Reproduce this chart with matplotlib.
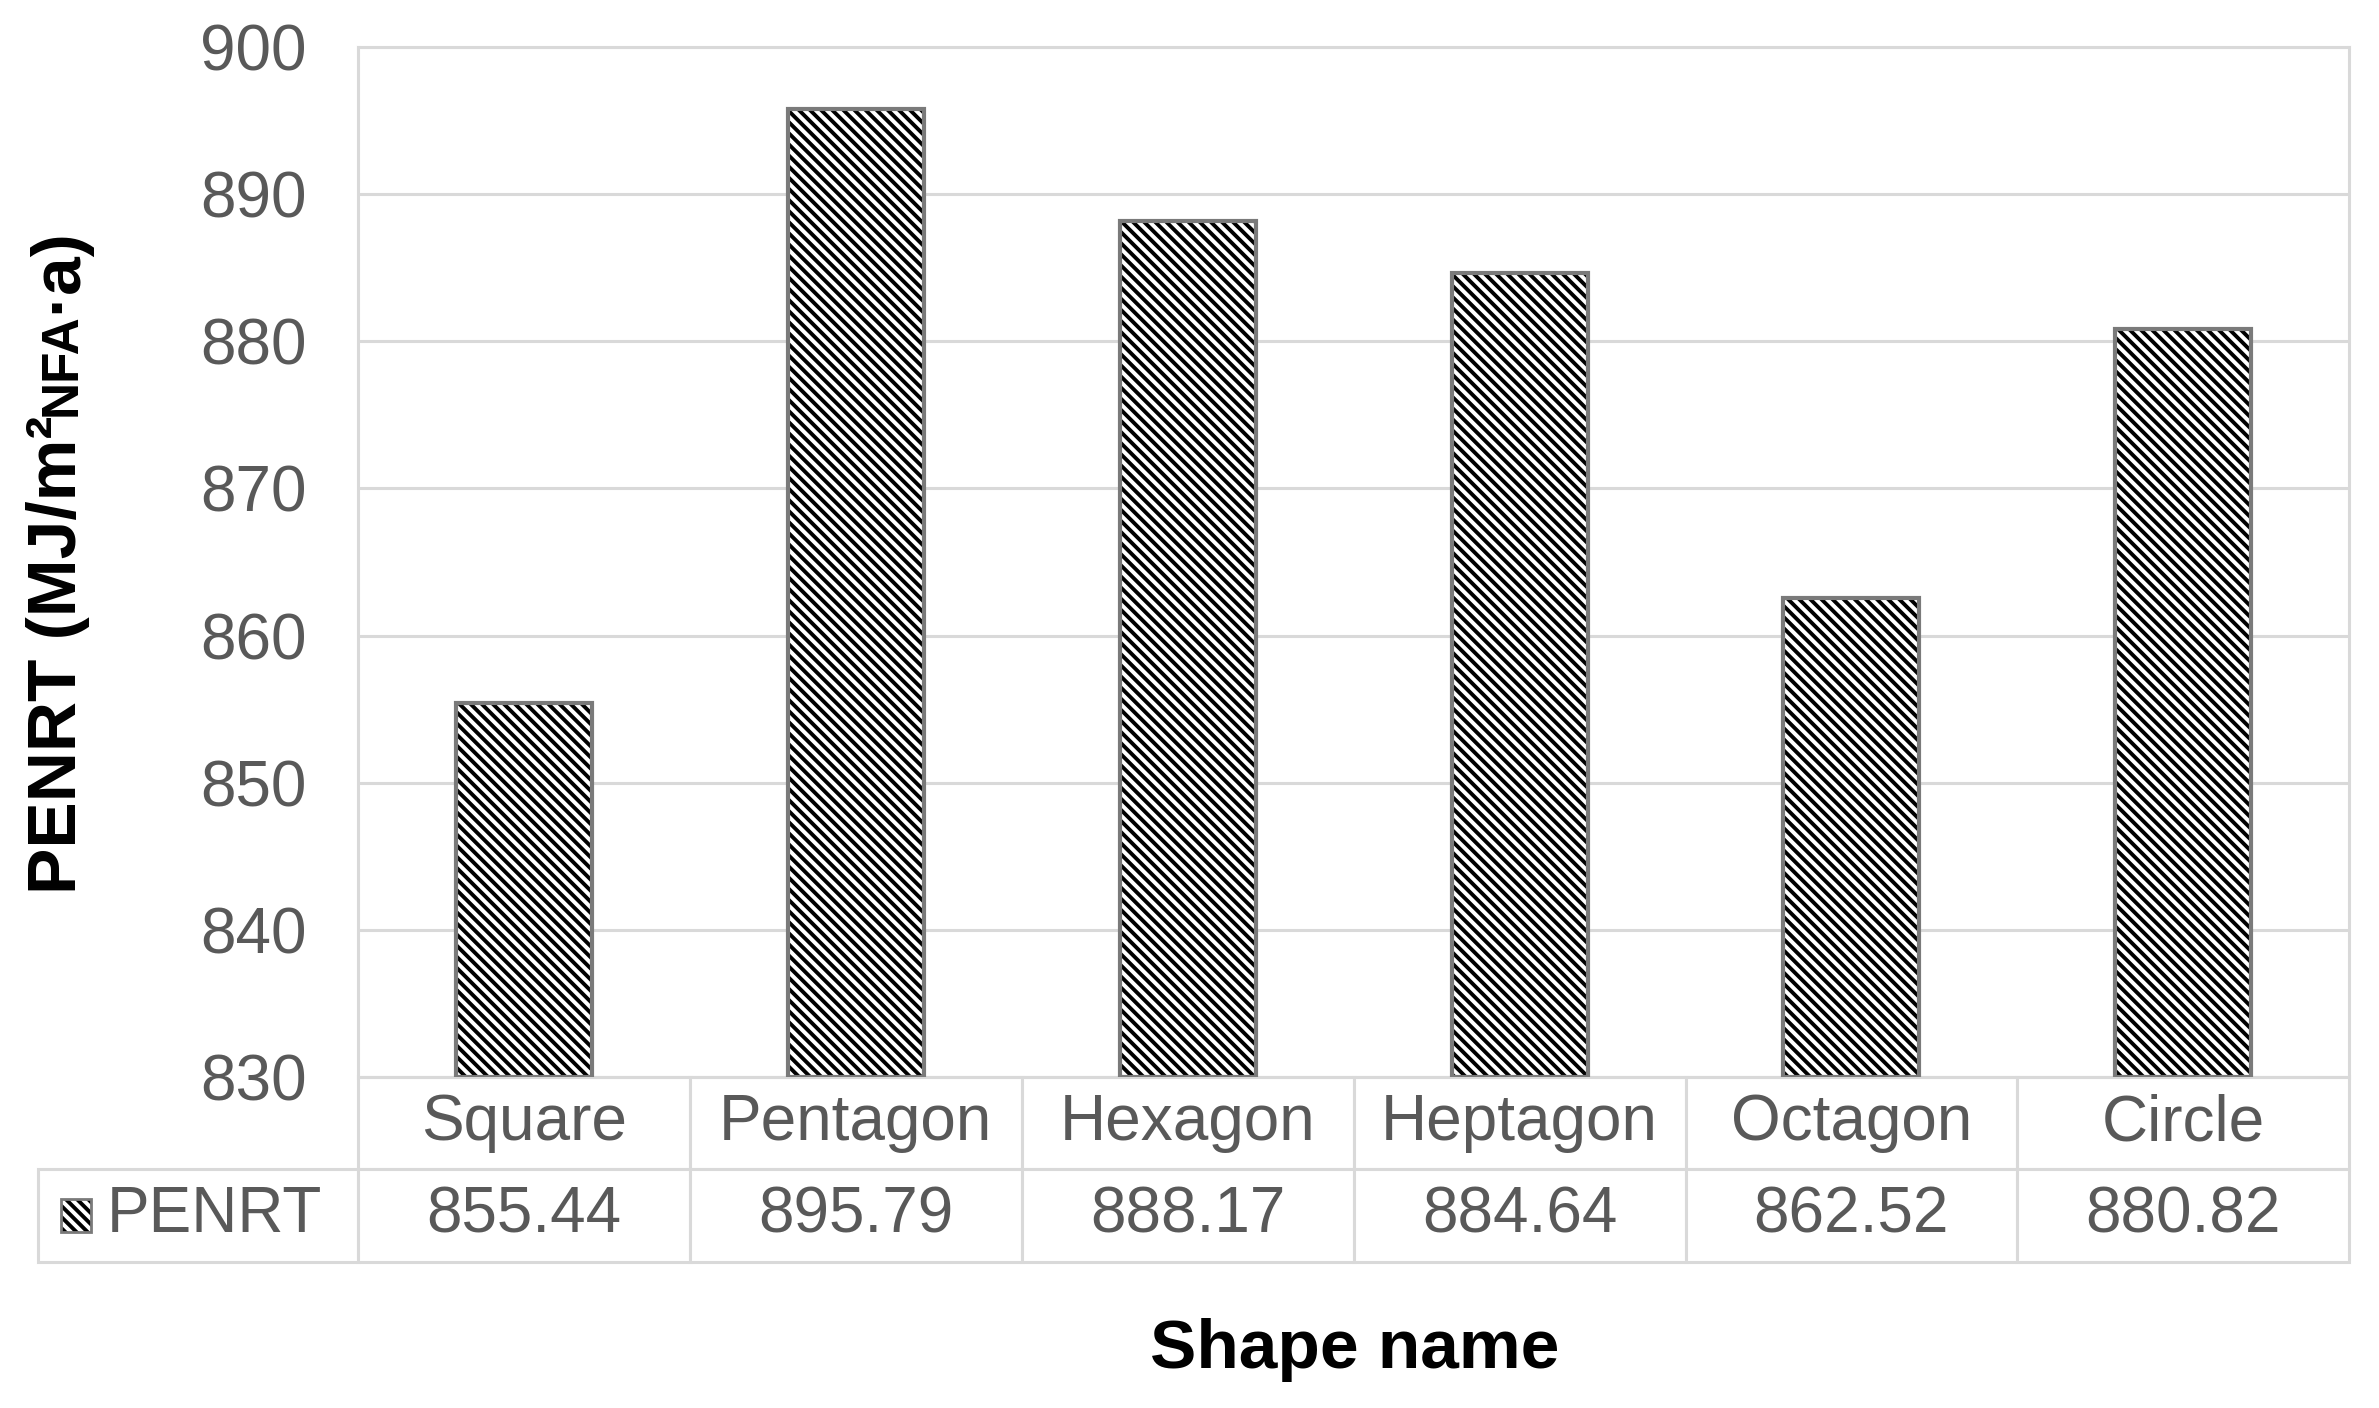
import matplotlib
matplotlib.use('Agg')
import matplotlib.pyplot as plt
from matplotlib.patches import Rectangle

# data
shapes = ['Square', 'Pentagon', 'Hexagon', 'Heptagon', 'Octagon', 'Circle']
penrt = [855.44, 895.79, 888.17, 884.64, 862.52, 880.82]
value_labels = ['855.44', '895.79', '888.17', '884.64', '862.52', '880.82']
yticks = [830, 840, 850, 860, 870, 880, 890, 900]

plt.rcParams['font.family'] = ['Liberation Sans', 'DejaVu Sans']
plt.rcParams['hatch.linewidth'] = 2.8

grey_txt = '#595959'
grid_c = '#d9d9d9'
fs = 46

fig = plt.figure(figsize=(23.79, 14.08), dpi=100)
ax = fig.add_axes([0.1505, 0.2351, 0.837, 0.7315])

x = list(range(len(shapes)))
# hatch in black, then a grey outline on top
ax.bar(x, [v - 830 for v in penrt], bottom=830, width=0.41, color='white',
       edgecolor='black', hatch='\\\\\\', linewidth=0, zorder=2)
ax.bar(x, [v - 830 for v in penrt], bottom=830, width=0.41, fill=False,
       edgecolor='#7a7a7a', linewidth=3, zorder=3)

ax.set_xlim(-0.5, len(shapes) - 0.5)
ax.set_ylim(830, 900)
ax.set_yticks(yticks)
ax.yaxis.grid(True, color=grid_c, linewidth=2.2)
ax.set_axisbelow(True)
ax.tick_params(axis='y', length=0, pad=37, labelsize=fs, labelcolor=grey_txt)
ax.tick_params(axis='x', bottom=False, labelbottom=False)
for s in ax.spines.values():
    s.set_color(grid_c)
    s.set_linewidth(2.2)

# data table under the plot
hdr_w = 0.1607
tbl = ax.table(cellText=[[''] + shapes, [''] + value_labels],
               colWidths=[hdr_w] + [1 / 6] * 6,
               cellLoc='center',
               bbox=[-hdr_w, -0.1796, 1 + hdr_w, 0.1796])
tbl.auto_set_font_size(False)
tbl.set_fontsize(fs)
for (r, c), cell in tbl.get_celld().items():
    cell.set_edgecolor(grid_c)
    cell.set_linewidth(2.2)
    cell.get_text().set_color(grey_txt)
    if r == 0 and c == 0:
        cell.visible_edges = ''

ax.add_patch(Rectangle((-0.149, -0.1505), 0.0151, 0.032, transform=ax.transAxes,
                       facecolor='white', edgecolor='black', hatch='\\\\\\',
                       linewidth=0, clip_on=False, zorder=5))
ax.add_patch(Rectangle((-0.149, -0.1505), 0.0151, 0.032, transform=ax.transAxes,
                       fill=False, edgecolor='#7a7a7a', linewidth=2,
                       clip_on=False, zorder=6))
ax.text(-0.0723, -0.134, 'PENRT', transform=ax.transAxes, ha='center',
        va='center', fontsize=fs, color=grey_txt)

fig.text(0.5696, 0.041, 'Shape name', ha='center', va='center',
         fontsize=50, fontweight='bold', color='black')

# y label in pieces so "NFA" sits small on the baseline
pieces = [('PENRT (MJ/m²', 50), ('NFA', 37), ('·a)', 50)]
renderer = fig.canvas.get_renderer()
parts = []
for s, size in pieces:
    t = fig.text(0, 0, s, rotation=90, rotation_mode='anchor', ha='left',
                 va='baseline', fontsize=size, fontweight='bold', color='black')
    parts.append((t, t.get_window_extent(renderer).height))
total = sum(h for _, h in parts)
fig_h = fig.get_figheight() * fig.dpi
y = 0.6016 * fig_h - total / 2
for t, h in parts:
    t.set_position((0.0319, y / fig_h))
    y += h

fig.savefig('out.png', dpi=100)
